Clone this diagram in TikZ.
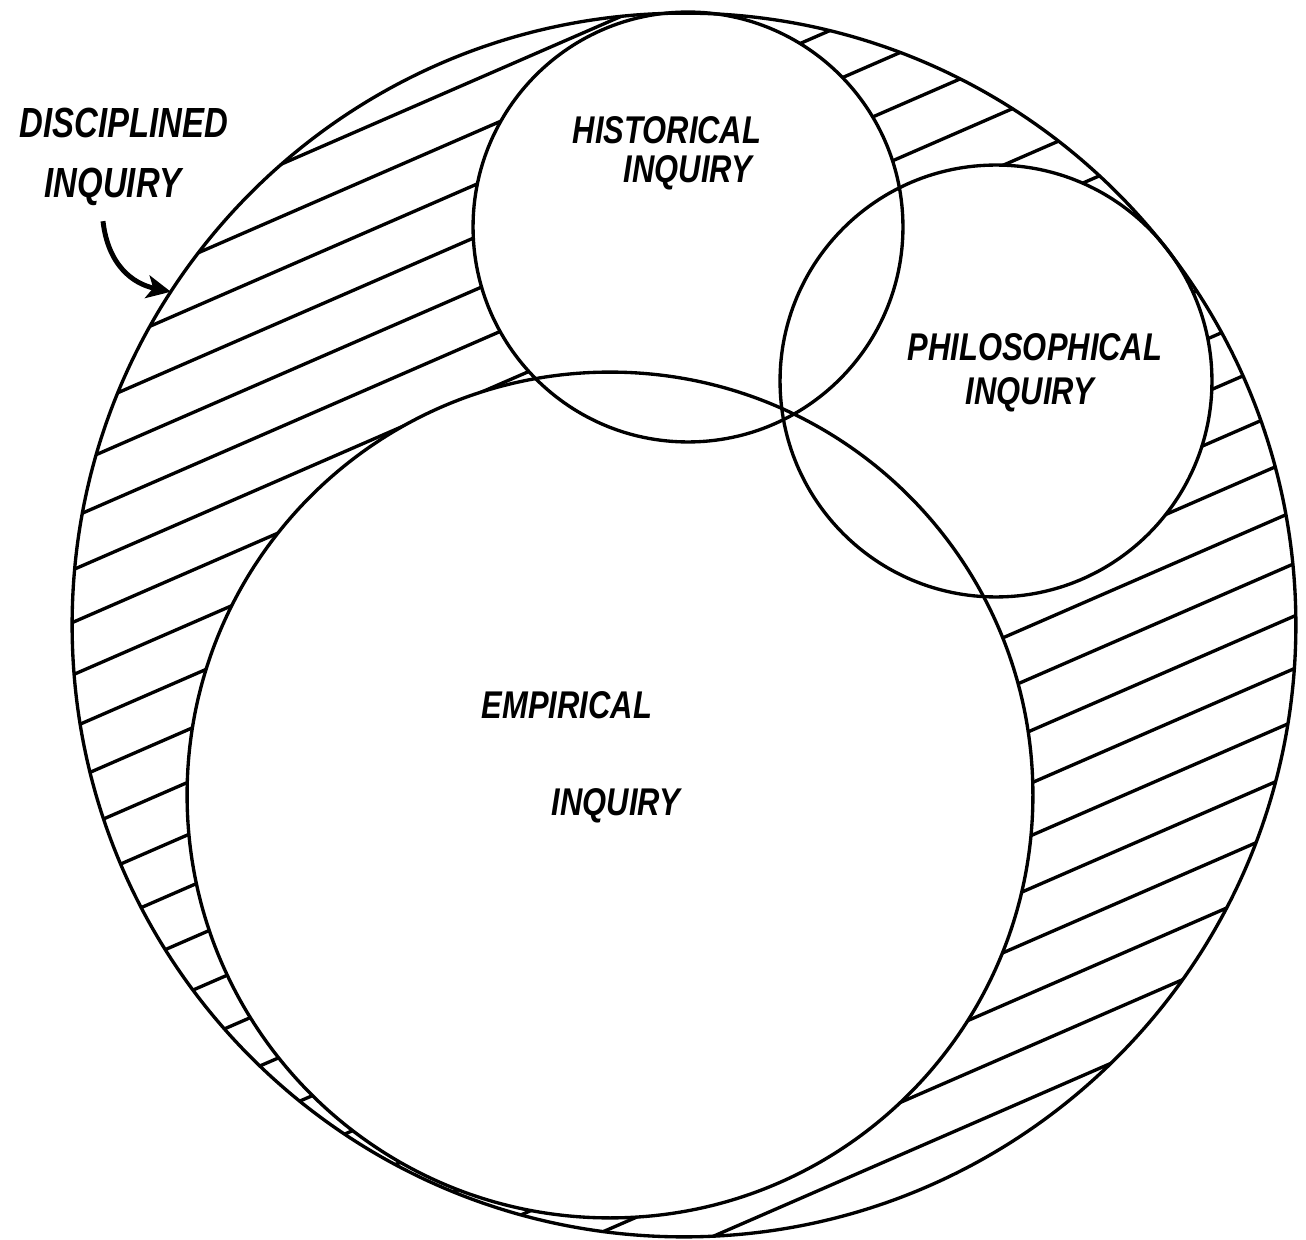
\documentclass[tikz,border=0pt]{standalone}
\usepackage{fontspec}
\setmainfont{Liberation Sans}
\usetikzlibrary{arrows.meta}
\begin{document}
\begin{tikzpicture}[x=0.02cm,y=-0.02cm,
  ring/.style={circle,draw=black,line width=1.9pt,inner sep=0pt,outer sep=0pt},
  hatch/.style={line width=1.9pt},
  lbl/.style={font=\fontsize{22}{24}\selectfont\bfseries\itshape,inner sep=0pt,xscale=0.8},
  biglbl/.style={font=\fontsize{24}{26}\selectfont\bfseries\itshape,inner sep=0pt,xscale=0.78},
  pointer/.style={line width=2.8pt,-{Stealth[length=0.48cm,width=0.46cm,inset=0.12cm]}}]
\useasboundingbox (0,0) rectangle (1306,1240);
% hatching of the region of disciplined inquiry
\begin{scope}
  \clip (684,625) circle[radius=612];
  \foreach \k in {-8,...,18}{
    \pgfmathsetmacro\hb{654+52.5*\k}
    \draw[hatch] (0,\hb) -- (1306,\hb-568);
  }
\end{scope}
% clear the interiors of the three inquiries
\fill[white] (610,795) circle[radius=423];
\fill[white] (688,227) circle[radius=215];
\fill[white] (996,381) circle[radius=216];
% circles
\node[ring,minimum size=24.48cm] (outer) at (684,625) {};
\node[ring,minimum size=16.92cm] (emp) at (610,795) {};
\node[ring,minimum size=8.6cm] (hist) at (688,227) {};
\node[ring,minimum size=8.64cm] (phil) at (996,381) {};
% labels
\node[biglbl] (d1) at (124,123) {DISCIPLINED};
\node[biglbl] (d2) at (113,187) {INQUIRY};
\node[lbl] (h1) at (667,130) {HISTORICAL};
\node[lbl] (h2) at (688,173) {INQUIRY};
\node[lbl] (p1) at (1035,347) {PHILOSOPHICAL};
\node[lbl] (p2) at (1030,395) {INQUIRY};
\node[lbl] (e1) at (567,705) {EMPIRICAL};
\node[lbl] (e2) at (616,806) {INQUIRY};
% pointer
\coordinate (start) at ([xshift=-0.2cm,yshift=-0.3cm]d2.south);
\draw[pointer] (start) .. controls +(5,44) and +(-38,-8) .. (outer.147);
\end{tikzpicture}
\end{document}
